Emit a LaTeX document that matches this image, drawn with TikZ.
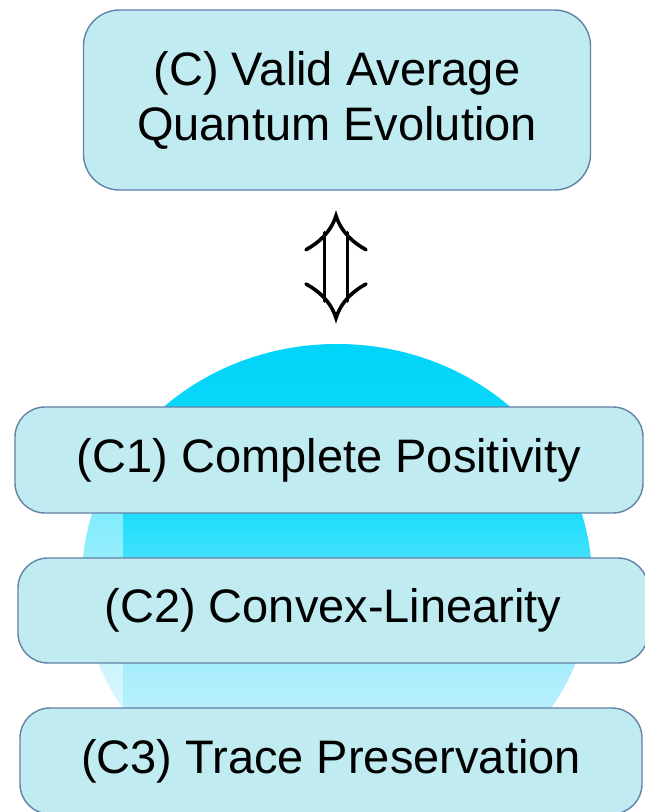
\documentclass[tikz,border=0pt]{standalone}
\usepackage{fontspec}
\setmainfont{Liberation Sans}
\usetikzlibrary{positioning, calc, arrows.meta}
\usepackage{xcolor}
\definecolor{boxfill}{RGB}{192,235,240}
\definecolor{boxedge}{RGB}{98,130,168}
\definecolor{sphtopc}{RGB}{0,212,249}
\definecolor{sphmidc}{RGB}{28,222,251}
\definecolor{sphlowc}{RGB}{92,228,251}
\definecolor{sphpale}{RGB}{172,238,252}
\definecolor{sphbotc}{RGB}{200,244,253}
\pgfdeclareverticalshading{sphere}{100bp}{%
  color(0bp)=(sphbotc); color(30bp)=(sphbotc); color(40bp)=(sphpale);
  color(49bp)=(sphlowc); color(57bp)=(sphmidc); color(75bp)=(sphtopc);
  color(100bp)=(sphtopc)}

\begin{document}
\begin{tikzpicture}[x=1pt, y=-1pt,
    cond/.style={draw=boxedge, fill=boxfill, line width=1.4pt, rounded corners=30pt,
      align=center, inner sep=0pt, font=\fontsize{47}{55}\selectfont},
    stroke/.style={line width=3.6pt, line cap=round}]
  \useasboundingbox (0,0) rectangle (645,812);
  \clip (0,0) rectangle (645,812);

  % shaded sphere behind the conditions
  \shade[shading=sphere] (337,580) ellipse [x radius=255, y radius=236];
  \begin{scope}
    \clip (337,580) ellipse [x radius=255, y radius=236];
    \fill[white, opacity=0.45] (60,340) rectangle (123,820);
  \end{scope}
  \coordinate (sphtop) at (337,344);

  % top statement
  \node[cond, minimum width=507pt, minimum height=180pt, rounded corners=36pt]
    (valid) at (337,100) {(C) Valid Average\\Quantum Evolution};

  % double arrow (equivalence)
  \coordinate (up) at ($(valid.south)+(-1,25)$);
  \coordinate (dn) at ($(sphtop)+(-1,-26)$);
  \draw[stroke] ($(up)+(-11.5,17)$) -- ($(dn)+(-11.5,-17)$);
  \draw[stroke] ($(up)+(11.5,17)$) -- ($(dn)+(11.5,-17)$);
  \draw[stroke] ($(up)+(-30,34)$) .. controls ($(up)+(-17,27)$) and ($(up)+(-5,16)$) .. (up)
    .. controls ($(up)+(5,16)$) and ($(up)+(17,27)$) .. ($(up)+(30,34)$);
  \draw[stroke] ($(dn)+(-30,-34)$) .. controls ($(dn)+(-17,-27)$) and ($(dn)+(-5,-16)$) .. (dn)
    .. controls ($(dn)+(5,-16)$) and ($(dn)+(17,-27)$) .. ($(dn)+(30,-34)$);

  % the three conditions
  \node[cond, minimum width=628pt, minimum height=106pt] (cp) at (329,460)
    {(C1) Complete Positivity};
  \node[cond, minimum width=630pt, minimum height=105pt] (cl) at (333,610.5)
    {(C2) Convex-Linearity};
  \node[cond, minimum width=622pt, minimum height=106pt] (tp) at (331,761)
    {(C3) Trace Preservation};
\end{tikzpicture}
\end{document}
